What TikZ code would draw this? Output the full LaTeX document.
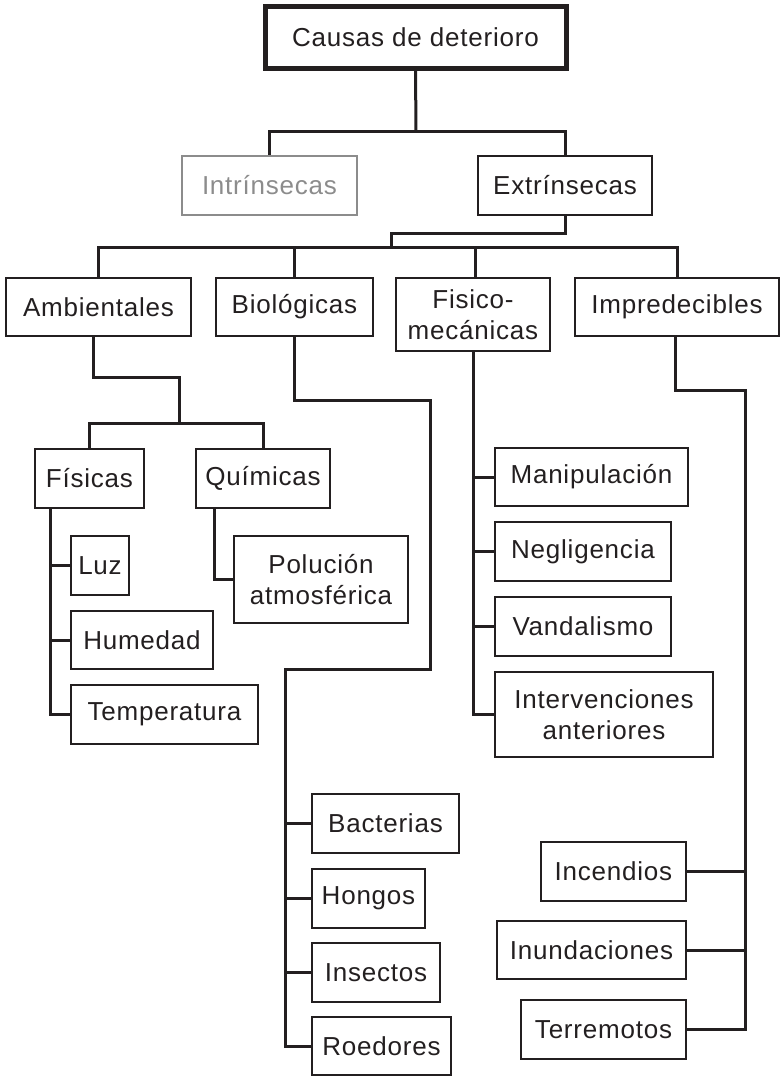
\documentclass[tikz,border=0pt]{standalone}
\usepackage{fontspec}
\setmainfont{Liberation Sans}[LetterSpace=3]
\usepackage{tikz}
\definecolor{ink}{HTML}{231F20}
\definecolor{faded}{HTML}{8C8C8C}

\begin{document}
\begin{tikzpicture}[x=1pt,y=-1pt,line width=3pt,draw=ink,cause/.style={shape=rectangle,draw=ink,line width=2.7pt,inner sep=0pt,align=center,text=ink,font=\fontsize{26pt}{31pt}\selectfont},causeR/.style={cause,line width=5pt},causeG/.style={cause,draw=faded,text=faded}]
\useasboundingbox (0,0) rectangle (781,1076);

\node[causeR,minimum width=301,minimum height=62] (root) at (415.5,37) {Causas de deterioro};

\node[causeG,minimum width=175,minimum height=59] (intr) at (269.5,185.5) {Intrínsecas};
\node[cause,minimum width=174,minimum height=59] (extr) at (565,185.5) {Extrínsecas};

\node[cause,minimum width=185,minimum height=58] (amb) at (98.5,307) {Ambientales};
\node[cause,minimum width=157,minimum height=58] (bio) at (294.5,307) {Biológicas};
\node[cause,minimum width=154,minimum height=73] (fis) at (473,314.5) {Fisico-\\mecánicas};
\node[cause,minimum width=204,minimum height=58] (imp) at (677,307) {Impredecibles};

\node[cause,minimum width=109,minimum height=59] (fisicas) at (89.5,478.5) {Físicas};
\node[cause,minimum width=134,minimum height=59] (quim) at (263,478.5) {Químicas};
\node[cause,minimum width=58,minimum height=59] (luz) at (100,565.5) {Luz};
\node[cause,minimum width=142,minimum height=58] (hum) at (142,640) {Humedad};
\node[cause,minimum width=187,minimum height=59] (temp) at (164.5,714.5) {Temperatura};
\node[cause,minimum width=174,minimum height=87] (pol) at (321,579.5) {Polución\\atmosférica};

\node[cause,minimum width=147,minimum height=59] (bact) at (385.5,823.5) {Bacterias};
\node[cause,minimum width=113,minimum height=59] (hong) at (368.5,898.5) {Hongos};
\node[cause,minimum width=128,minimum height=59] (ins) at (376,972.5) {Insectos};
\node[cause,minimum width=139,minimum height=58] (roed) at (381.5,1046) {Roedores};

\node[cause,minimum width=193,minimum height=58] (manip) at (591.5,477) {Manipulación};
\node[cause,minimum width=176,minimum height=59] (negl) at (583,551.5) {Negligencia};
\node[cause,minimum width=176,minimum height=59] (vand) at (583,626.5) {Vandalismo};
\node[cause,minimum width=218,minimum height=85] (interv) at (604,714.5) {Intervenciones\\anteriores};

\node[cause,minimum width=145,minimum height=59] (incend) at (613.5,871.5) {Incendios};
\node[cause,minimum width=189,minimum height=58] (inund) at (591.5,950) {Inundaciones};
\node[cause,minimum width=165,minimum height=59] (terr) at (603.5,1029.5) {Terremotos};

\coordinate (j1) at (416,131);
\coordinate (j2) at (391,247);
\coordinate (j3) at (179,423);
\coordinate (b1) at (430,400);
\coordinate (b2) at (285,669);
\coordinate (i1) at (745,390);

\draw (root.south) -- (j1);
\draw (intr.north) |- (j1) -| (extr.north);

\draw (extr.south) -- ++(0,17) -| (j2);
\draw (amb.north) |- (j2) -| (imp.north);
\draw (bio.north) -- (bio.north |- j2);
\draw ([xshift=2]fis.north) -- ([xshift=2]fis.north |- j2);

\draw ([xshift=-5]amb.south) -- ++(0,40) -| (j3);
\draw (fisicas.north) |- (j3) -| (quim.north);

\draw ([xshift=17]fisicas.south west) |- (temp.west);
\draw ([xshift=17]fisicas.south west |- luz.west) -- (luz.west);
\draw ([xshift=17]fisicas.south west |- hum.west) -- (hum.west);
\draw ([xshift=20]quim.south west) |- (pol.west);

\draw (bio.south) |- (b1) |- (b2) |- (roed.west);
\draw (b2 |- bact.west) -- (bact.west);
\draw (b2 |- hong.west) -- (hong.west);
\draw (b2 |- ins.west) -- (ins.west);

\draw (fis.south) |- (interv.west);
\draw (fis.south |- manip.west) -- (manip.west);
\draw (fis.south |- negl.west) -- (negl.west);
\draw (fis.south |- vand.west) -- (vand.west);

\draw ([xshift=-2]imp.south) |- (i1) |- (terr.east);
\draw (i1 |- incend.east) -- (incend.east);
\draw (i1 |- inund.east) -- (inund.east);

\end{tikzpicture}
\end{document}
